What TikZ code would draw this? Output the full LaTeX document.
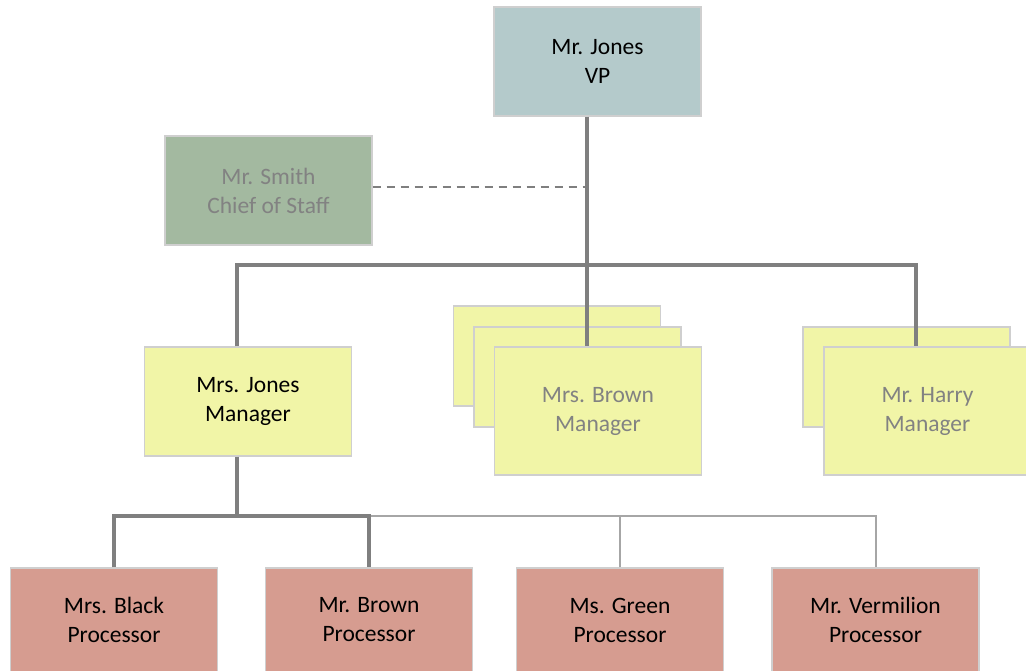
\documentclass[tikz,border=0pt]{standalone}
\usepackage{fontspec}
\setmainfont{Carlito}

\definecolor{vpfill}{HTML}{B4CACB}
\definecolor{stafffill}{HTML}{A3B9A0}
\definecolor{mgrfill}{HTML}{F1F5A7}
\definecolor{procfill}{HTML}{D69C90}
\definecolor{cardline}{HTML}{CFCFCF}
\definecolor{barline}{HTML}{7F7F7F}
\definecolor{thinline}{HTML}{A6A6A6}
\definecolor{muted}{HTML}{828282}

\tikzset{
  card/.style={draw=cardline, line width=1.2pt, minimum width=207pt,
    minimum height=109pt, inner sep=0pt, align=center,
    font=\fontsize{23.5}{29}\selectfont},
  backcard/.style={card, minimum height=100pt},
  frontcard/.style={card, minimum height=128pt},
  bar/.style={draw=barline, line width=4pt},
  thinbar/.style={draw=thinline, line width=2pt},
  dotline/.style={draw=barline, line width=2pt, dash pattern=on 8pt off 6pt}
}

\begin{document}
\begin{tikzpicture}[x=1pt, y=-1pt]
    \useasboundingbox (0,0) rectangle (1026,670);

    % Top of the chart
    \node[card, fill=vpfill] (vp) at (597.5,61.5) {Mr. Jones\\VP};
    \node[card, fill=stafffill, text=muted] (smith) at (268.5,190.5) {Mr. Smith\\Chief of Staff};

    % Managers (stacked cards stand for several people)
    \node[card, fill=mgrfill] (mjones) at (248,401.5) {Mrs. Jones\\Manager};
    \node[backcard, fill=mgrfill] (brownback1) at (557,356) {};
    \node[backcard, fill=mgrfill] (brownback2) at (577.5,377) {};
    \node[frontcard, fill=mgrfill, text=muted] (brown) at (598,411) {Mrs. Brown\\Manager};
    \node[backcard, fill=mgrfill] (harryback) at (906.5,377) {};
    \node[frontcard, fill=mgrfill, text=muted] (harry) at (927.5,411) {Mr. Harry\\Manager};

    % Processors
    \node[card, fill=procfill, minimum height=104pt] (black) at (114,620) {Mrs. Black\\Processor};
    \node[card, fill=procfill, minimum height=104pt] (brownp) at (369,620) {Mr. Brown\\Processor};
    \node[card, fill=procfill, minimum height=104pt] (green) at (620,620) {Ms. Green\\Processor};
    \node[card, fill=procfill, minimum height=104pt] (vermilion) at (875.5,620) {Mr. Vermilion\\Processor};

    % Junctions of the bars
    \coordinate (hub) at (587,265);
    \coordinate (barleft) at (237,265);
    \coordinate (barright) at (916,265);
    \coordinate (low) at (237,516);

    % Upper connectors
    \draw[bar] (vp.south -| hub) -- (brown.north -| hub);
    \draw[bar] (mjones.north -| barleft) -- (barleft) -- (barright) -- (harry.north -| barright);
    \draw[dotline] (smith.east |- 0,187) -- (hub |- 0,187);

    % Lower connectors
    \draw[bar] (mjones.south -| low) -- (low);
    \draw[thinbar] (brownp.north |- low) ++(1,0) -- (vermilion.north |- low) -- (vermilion.north);
    \draw[thinbar] (green.north) -- (green.north |- low);
    \draw[bar] (black.north) -- (black.north |- low) -- (brownp.north |- low) -- (brownp.north);

\end{tikzpicture}
\end{document}
